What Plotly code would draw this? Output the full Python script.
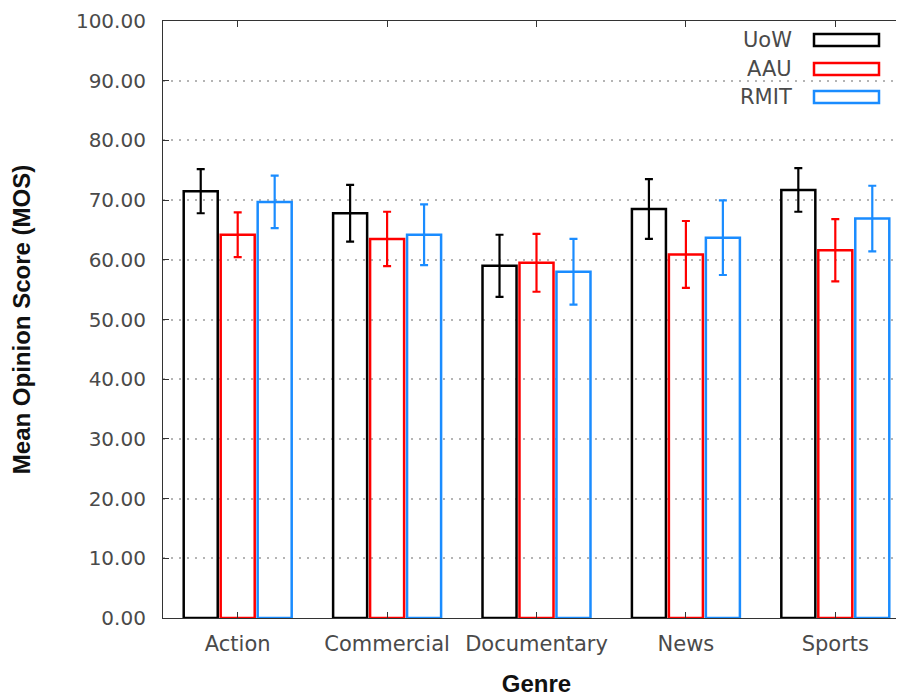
import plotly.graph_objects as go

genres = ["Action", "Commercial", "Documentary", "News", "Sports"]
series_names = ["UoW", "AAU", "RMIT"]
uow = [71.5, 67.8, 59.0, 68.5, 71.7]
uow_err = [3.7, 4.75, 5.2, 5.0, 3.65]
aau = [64.2, 63.5, 59.5, 60.9, 61.6]
aau_err = [3.75, 4.55, 4.85, 5.6, 5.2]
rmit = [69.7, 64.2, 58.0, 63.7, 66.9]
rmit_err = [4.4, 5.1, 5.5, 6.25, 5.5]
y_ticks = [0, 10, 20, 30, 40, 50, 60, 70, 80, 90, 100]
y_tick_text = ["%.2f" % v for v in y_ticks]

colors = ["#000000", "#ff0000", "#1a8cff"]
values = [uow, aau, rmit]
errors = [uow_err, aau_err, rmit_err]

# page body has an 8px margin, so figure coords = screen coords - 8
OFF = 8
W, H = 904, 700
L, R, T, B = 155, 2, 13, 90
pw, ph = W - L - R, H - T - B

fig = go.Figure()
for name, vals, errs, col in zip(series_names, values, errors, colors):
    fig.add_trace(go.Bar(
        x=list(range(len(genres))), y=vals, name=name,
        marker=dict(color="rgba(255,255,255,0)", line=dict(color=col, width=2.5)),
        error_y=dict(type="data", array=errs, visible=True, color=col, thickness=2.2, width=4),
        showlegend=False,
    ))

def px_x(p):
    return (p - OFF - L) / pw

def px_y(p):
    return (H - B - (p - OFF)) / ph

# manual legend (long outlined swatches like the reference)
legend_rows = [40, 69, 97]
for name, col, yc in zip(series_names, colors, legend_rows):
    fig.add_annotation(
        x=px_x(794), y=px_y(yc), xref="paper", yref="paper",
        text=name, showarrow=False, xanchor="right", yanchor="middle",
        font=dict(family="DejaVu Sans", size=21, color="#4a4a4a"),
    )
    fig.add_shape(
        type="rect", xref="paper", yref="paper",
        x0=px_x(814), x1=px_x(879), y0=px_y(yc - 6), y1=px_y(yc + 6),
        line=dict(color=col, width=2.5), fillcolor="rgba(255,255,255,0)",
    )

fig.update_layout(
    width=W, height=H,
    margin=dict(l=L, r=R, t=T, b=B, pad=0, autoexpand=False),
    plot_bgcolor="white", paper_bgcolor="white",
    barmode="group", bargap=0.2575, bargroupgap=0.08,
    showlegend=False,
    font=dict(family="DejaVu Sans", size=21, color="#4a4a4a"),
)
fig.update_xaxes(
    range=[-0.5, 4.5], tickmode="array",
    tickvals=list(range(len(genres))), ticktext=genres,
    ticks="inside", ticklen=6, tickcolor="#333333",
    showline=True, linecolor="#333333", linewidth=1.2, mirror="ticks",
    showgrid=False, zeroline=False, automargin=False,
    tickfont=dict(family="DejaVu Sans", size=21, color="#4a4a4a"),
    ticklabelstandoff=7,
    title=dict(text="<b>Genre</b>", font=dict(family="Liberation Sans", size=24, color="#111111"), standoff=19),
)
fig.update_yaxes(
    range=[0, 100], tickmode="array", tickvals=y_ticks, ticktext=y_tick_text,
    ticks="inside", ticklen=6, tickcolor="#333333",
    showline=True, linecolor="#333333", linewidth=1.2, mirror=False,
    showgrid=True, gridcolor="#b4b4b4", gridwidth=1.5, griddash="2px,6px",
    zeroline=False, automargin=False,
    tickfont=dict(family="DejaVu Sans", size=20, color="#4a4a4a"),
    ticklabelstandoff=12,
    title=dict(text="<b>Mean Opinion Score (MOS)</b>", font=dict(family="Liberation Sans", size=24, color="#111111"), standoff=38),
)

fig.write_html("out.html")
